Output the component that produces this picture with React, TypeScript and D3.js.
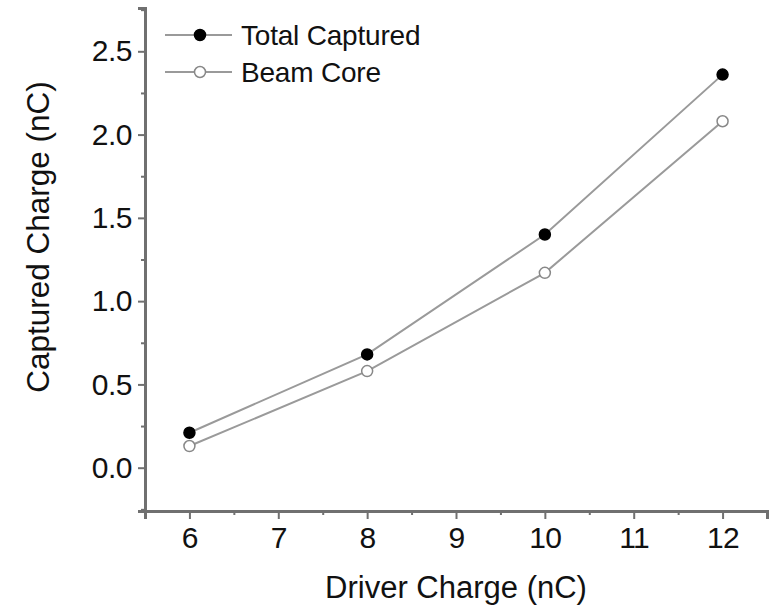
import React, { useEffect, useRef } from 'react';
import * as d3 from 'd3';

const driverCharge = [6, 8, 10, 12];
const totalCaptured = [0.21, 0.68, 1.40, 2.36];
const beamCore = [0.13, 0.58, 1.17, 2.08];
const xTicks = [6, 7, 8, 9, 10, 11, 12];
const yTicks = [0, 0.5, 1.0, 1.5, 2.0, 2.5];

const W = 775;
const H = 608;
const FONT = '"Liberation Sans", Arial, sans-serif';

const App = () => {
  const ref = useRef<SVGSVGElement>(null);

  useEffect(() => {
    const svg = d3.select(ref.current);
    svg.selectAll('*').remove();

    const x = d3.scaleLinear().domain([5.5, 12.5]).range([145, 767]);
    const y = d3.scaleLinear().domain([-0.26, 2.76]).range([511, 8]);

    const axisColor = '#707070';
    const lineColor = '#9a9a9a';

    // minor ticks
    const xMinor = d3.range(5.5, 12.51, 0.5).filter(v => v % 1 !== 0);
    const yMinor = d3.range(-0.25, 2.76, 0.25).filter(v => Math.abs((v * 2) % 1) > 0.01);

    const gx = svg.append('g').attr('transform', `translate(0,${y.range()[0]})`);
    gx.call(d3.axisBottom(x).tickValues(xTicks).tickSize(8).tickPadding(8).tickFormat(d3.format('d')));
    gx.append('g').call(d3.axisBottom(x).tickValues(xMinor).tickSize(4).tickFormat(() => ''));

    const gy = svg.append('g').attr('transform', `translate(${x.range()[0]},0)`);
    gy.call(d3.axisLeft(y).tickValues(yTicks).tickSize(7).tickPadding(6).tickFormat(d3.format('.1f')));
    gy.append('g').call(d3.axisLeft(y).tickValues(yMinor).tickSize(4).tickFormat(() => ''));

    svg.selectAll('.domain').attr('stroke', axisColor).attr('stroke-width', 3);
    svg.selectAll('.tick line').attr('stroke', axisColor).attr('stroke-width', 2);
    svg.selectAll('.tick text')
      .attr('fill', '#111')
      .attr('font-family', FONT)
      .attr('font-size', 30)
      .attr('letter-spacing', -0.5);

    const series = [
      { name: 'Total Captured', values: totalCaptured, fill: '#000', stroke: '#000' },
      { name: 'Beam Core', values: beamCore, fill: '#fff', stroke: '#888' }
    ];

    const line = d3.line<number>()
      .x((d, i) => x(driverCharge[i]))
      .y(d => y(d));

    series.forEach(s => {
      svg.append('path')
        .datum(s.values)
        .attr('fill', 'none')
        .attr('stroke', lineColor)
        .attr('stroke-width', 2)
        .attr('d', line);
      svg.append('g')
        .selectAll('circle')
        .data(s.values)
        .enter().append('circle')
        .attr('cx', (d, i) => x(driverCharge[i]))
        .attr('cy', d => y(d))
        .attr('r', 5.5)
        .attr('fill', s.fill)
        .attr('stroke', s.stroke)
        .attr('stroke-width', 1.5);
    });

    // legend
    const legend = svg.append('g')
      .selectAll('g')
      .data(series)
      .enter().append('g')
      .attr('transform', (d, i) => `translate(165,${35 + i * 37})`);
    legend.append('line')
      .attr('x1', 0).attr('x2', 67)
      .attr('stroke', lineColor).attr('stroke-width', 2);
    legend.append('circle')
      .attr('cx', 35).attr('r', 5.5)
      .attr('fill', d => d.fill).attr('stroke', d => d.stroke).attr('stroke-width', 1.5);
    legend.append('text')
      .attr('x', 76).attr('y', 10)
      .attr('font-family', FONT).attr('font-size', 28).attr('letter-spacing', -0.2)
      .attr('fill', '#111')
      .text(d => d.name);

    // axis titles
    svg.append('text')
      .attr('x', 456).attr('y', 598)
      .attr('text-anchor', 'middle')
      .attr('font-family', FONT).attr('font-size', 31)
      .attr('fill', '#111')
      .text('Driver Charge (nC)');
    svg.append('text')
      .attr('transform', 'translate(49,237) rotate(-90)')
      .attr('text-anchor', 'middle')
      .attr('font-family', FONT).attr('font-size', 31.5)
      .attr('fill', '#111')
      .text('Captured Charge (nC)');
  }, []);

  return (
    <svg
      ref={ref}
      width={W}
      height={H}
      style={{ position: 'absolute', left: 0, top: 0, background: '#fff' }}
    />
  );
};

export default App;
